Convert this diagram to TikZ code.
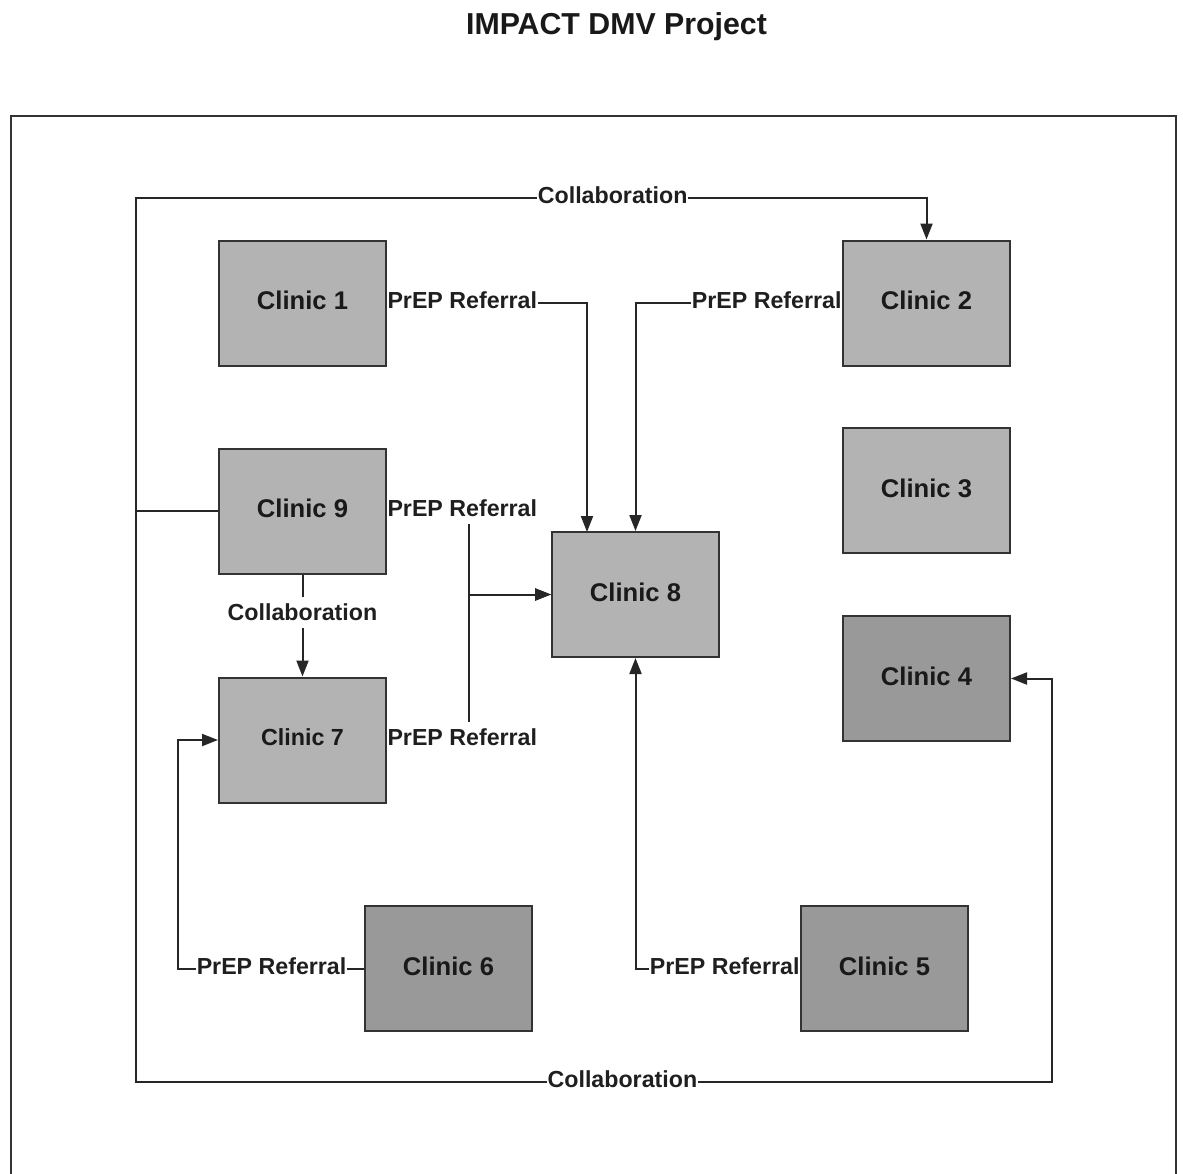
\documentclass[tikz,border=0pt]{standalone}
\usepackage{fontspec}
\setmainfont{Liberation Sans}
\usetikzlibrary{arrows.meta}
\definecolor{boxlight}{HTML}{B3B3B3}
\definecolor{boxdark}{HTML}{999999}
\definecolor{edge}{HTML}{333333}
% lift text a little above the geometric centre without changing its box
\newcommand\liftedtext[1]{\raisebox{2.5pt}[\height][\depth]{#1}}
\tikzset{
  clinic/.style={draw=edge, line width=2pt, minimum width=167pt, minimum height=125pt,
    inner sep=0pt, text=black!90, font=\bfseries\fontsize{25.6}{30}\selectfont},
  lightbox/.style={clinic, fill=boxlight},
  darkbox/.style={clinic, fill=boxdark},
  conn/.style={draw=black!85, line width=2pt},
  arr/.style={conn, -{Triangle[length=16pt,width=12pt]}},
  lbl/.style={fill=white, inner xsep=0.5pt, inner ysep=7pt, outer sep=0pt, yshift=2.5pt,
    text=black!88, font=\bfseries\fontsize{23.2}{27}\selectfont},
  outer/.style={draw=edge, line width=2pt}
}
\begin{document}
\begin{tikzpicture}[x=1pt, y=-1pt]
\useasboundingbox (0,0) rectangle (1183,1173);

% title and outer frame
\node[font=\bfseries\fontsize{30.3}{35}\selectfont, text=black!90] (title) at (616.5,26.5) {IMPACT DMV Project};
\draw[outer] (11,1174) -- (11,116) -- (1176,116) -- (1176,1174);

% clinics
\node[lightbox] (c1) at (302.5,303) {\liftedtext{Clinic 1}};
\node[lightbox] (c2) at (926.5,303) {\liftedtext{Clinic 2}};
\node[lightbox] (c3) at (926.5,490.5) {\liftedtext{Clinic 3}};
\node[darkbox]  (c4) at (926.5,678.5) {\liftedtext{Clinic 4}};
\node[lightbox] (c9) at (302.5,511) {\liftedtext{Clinic 9}};
\node[lightbox, font=\bfseries\fontsize{23.3}{28}\selectfont] (c7) at (302.5,740) {\liftedtext{Clinic 7}};
\node[lightbox] (c8) at (635.5,594.5) {\liftedtext{Clinic 8}};
\node[darkbox]  (c6) at (448.5,968.5) {\liftedtext{Clinic 6}};
\node[darkbox]  (c5) at (884.5,968.5) {\liftedtext{Clinic 5}};

% junction points of the routed connectors
\coordinate (jn) at (136,511);
\coordinate (tr) at (926.5,198);
\coordinate (br) at (1052,1082);

% collaboration loop around the network
\draw[arr] (c9.west) -- (jn) -- (136,198)
  -- node[lbl, pos=0.603] (lcol1) {Collaboration} (tr) -- (c2.north);
\draw[arr] (jn) -- (136,1082)
  -- node[lbl, pos=0.531] (lcol2) {Collaboration} (br) |- (c4.east);

% PrEP referrals into Clinic 8
\draw[arr] (c1.east) -- node[lbl, pos=0, anchor=west] (lr1) {PrEP Referral}
  (587,303) -- (587,532);
\draw[arr] (c2.west) -- node[lbl, pos=0, anchor=east] (lr2) {PrEP Referral}
  (c8.north |- c2.west) -- (c8.north);
\draw[arr] (c9.east) -- node[lbl, pos=0, anchor=west] (lr9) {PrEP Referral}
  (469,511) |- (c8.west);
\draw[arr] (c7.east) -- node[lbl, pos=0, anchor=west] (lr7) {PrEP Referral}
  (469,740) |- (c8.west);
\draw[arr] (c5.west) -- node[lbl, pos=0, anchor=east] (lr5) {PrEP Referral}
  (c8.south |- c5.west) -- (c8.south);

% Clinic 9 to Clinic 7 and Clinic 6 to Clinic 7
\draw[arr] (c9.south) -- node[lbl, pos=0.393] (lcol3) {Collaboration} (c7.north);
\draw[arr] (c6.west) -- node[lbl, pos=0.497] (lr6) {PrEP Referral}
  (178,968.5) |- (c7.west);
\end{tikzpicture}
\end{document}
